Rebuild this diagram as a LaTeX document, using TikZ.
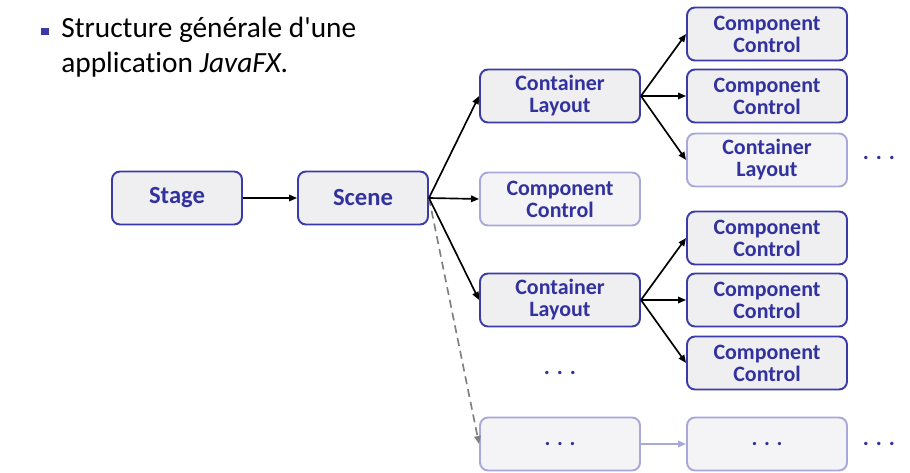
\documentclass[tikz,border=0pt]{standalone}
\usepackage{fontspec}
\setmainfont{Carlito}[Ligatures=NoCommon]
\newfontfamily\titlefont{Carlito}[Ligatures=NoCommon]
\usetikzlibrary{arrows.meta, positioning}
\definecolor{fxBlue}{RGB}{50,50,158}
\definecolor{fxBorder}{RGB}{58,58,168}
\definecolor{fxPale}{RGB}{168,168,218}
\definecolor{fxFill}{RGB}{239,239,241}
\definecolor{fxPaleFill}{RGB}{244,244,246}
\definecolor{fxDash}{RGB}{128,128,128}

\begin{document}
\begin{tikzpicture}[x=0.02cm, y=-0.02cm,
		every node/.style={font=\bfseries\fontsize{12.5}{12.5}\selectfont, text=fxBlue, align=center},
		box/.style={draw=fxBorder, fill=fxFill, line width=1.1pt, rounded corners=0.16cm, minimum width=3.2cm, minimum height=1.06cm, inner sep=1pt},
		palebox/.style={box, draw=fxPale, fill=fxPaleFill},
		dots/.style={font=\bfseries\fontsize{13}{13}\selectfont},
		link/.style={line width=0.95pt, -{Triangle[length=1.6mm, width=1.3mm]}}]
		\useasboundingbox (0,0) rectangle (910,473);
		% Title with bullet
		\fill[fxBorder] (41,28) rectangle (49,35.5);
		\node[anchor=north west, align=left, text=black, font=\titlefont\fontsize{16.7}{19.6}\selectfont, inner sep=0pt] (title) at (61,17)
			{Structure générale d'une\\application \textit{JavaFX}.};
		% Stage and scene
		\node[box, minimum width=2.6cm, font=\bfseries\fontsize{14}{14}\selectfont] (stage) at (177,198) {Stage};
		\node[box, minimum width=2.6cm, font=\bfseries\fontsize{14}{14}\selectfont] (scene) at (363,198) {Scene};
		% Middle column
		\node[box] (layA) at (560,96) {Container\\Layout};
		\node[palebox] (ctlA) at (560,199) {Component\\Control};
		\node[box] (layB) at (560,300) {Container\\Layout};
		\node[dots] (dotsMid) at (560,373) {. . .};
		\node[palebox] (moreA) at (560,444) {. . .};
		% Right column
		\node[box] (ctlB) at (767,34) {Component\\Control};
		\node[box] (ctlC) at (767,96) {Component\\Control};
		\node[palebox] (layC) at (767,160) {Container\\Layout};
		\node[box] (ctlD) at (767,238) {Component\\Control};
		\node[box] (ctlE) at (767,300) {Component\\Control};
		\node[box] (ctlF) at (767,363) {Component\\Control};
		\node[palebox] (moreB) at (767,444) {. . .};
		\node[dots] (dotsTop) at (879,158) {. . .};
		\node[dots] (dotsLow) at (879,444) {. . .};
		% Links
		\draw[link] (stage) -- (scene);
		\draw[fxDash, line width=0.95pt, dash pattern=on 1.6mm off 1mm, -{Triangle[length=1.6mm, width=1.3mm]}] (scene.east) -- (moreA.west);
		\foreach \t in {layA, ctlA, layB}
			\draw[link] (scene.east) -- (\t.west);
		\foreach \t in {ctlB, ctlC, layC}
			\draw[link] (layA.east) -- (\t.west);
		\foreach \t in {ctlD, ctlE, ctlF}
			\draw[link] (layB.east) -- (\t.west);
		\draw[link, fxPale] (moreA) -- (moreB);
	\end{tikzpicture}
\end{document}
